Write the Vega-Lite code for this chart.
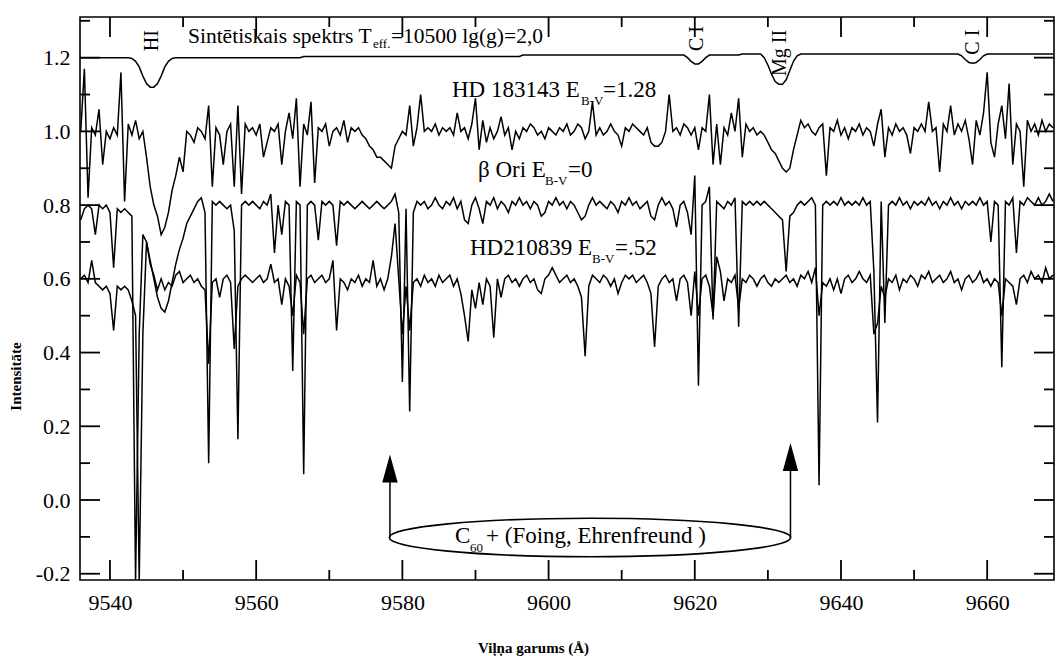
{
"$schema":"https://vega.github.io/schema/vega-lite/v6.json",
"width":974,"height":563,
"autosize":{"type":"none"},
"padding":{"left":80,"top":17,"right":4,"bottom":76},
"background":"white",
"config":{"view":{"stroke":"black","strokeWidth":1.6}},
"resolve":{"axis":{"x":"independent","y":"independent"}},
"datasets":{
"spec":[
{"w":9536.0,"a":1.00,"b":0.76,"c":0.60,"s":1.2},
{"w":9536.5,"a":1.17,"b":0.79,"c":0.61,"s":1.2},
{"w":9537.0,"a":0.82,"b":0.80,"c":0.59,"s":1.2},
{"w":9537.5,"a":1.01,"b":0.79,"c":0.65,"s":1.2},
{"w":9538.0,"a":0.99,"b":0.72,"c":0.59,"s":1.2},
{"w":9538.5,"a":1.06,"b":0.80,"c":0.58,"s":1.2},
{"w":9539.0,"a":0.91,"b":0.79,"c":0.57,"s":1.2},
{"w":9539.5,"a":1.00,"b":0.80,"c":0.58,"s":1.2},
{"w":9540.0,"a":0.98,"b":0.78,"c":0.56,"s":1.2},
{"w":9540.5,"a":1.01,"b":0.63,"c":0.46,"s":1.2},
{"w":9541.0,"a":0.99,"b":0.79,"c":0.58,"s":1.2},
{"w":9541.5,"a":1.16,"b":0.78,"c":0.57,"s":1.2},
{"w":9542.0,"a":0.81,"b":0.79,"c":0.58,"s":1.2},
{"w":9542.5,"a":1.02,"b":0.78,"c":0.57,"s":1.2},
{"w":9543.0,"a":0.99,"b":0.77,"c":0.54,"s":1.198},
{"w":9543.5,"a":1.03,"b":-0.22,"c":0.50,"s":1.19},
{"w":9544.0,"a":0.98,"b":0.45,"c":-0.22,"s":1.175},
{"w":9544.5,"a":1.00,"b":0.72,"c":0.45,"s":1.15},
{"w":9545.0,"a":0.93,"b":0.70,"c":0.70,"s":1.13},
{"w":9545.5,"a":0.85,"b":0.65,"c":0.64,"s":1.12},
{"w":9546.0,"a":0.80,"b":0.60,"c":0.61,"s":1.12},
{"w":9546.5,"a":0.77,"b":0.55,"c":0.57,"s":1.13},
{"w":9547.0,"a":0.72,"b":0.52,"c":0.60,"s":1.15},
{"w":9547.5,"a":0.74,"b":0.51,"c":0.57,"s":1.175},
{"w":9548.0,"a":0.78,"b":0.54,"c":0.59,"s":1.19},
{"w":9548.5,"a":0.84,"b":0.59,"c":0.58,"s":1.198},
{"w":9549.0,"a":0.88,"b":0.64,"c":0.61,"s":1.2},
{"w":9549.5,"a":0.93,"b":0.68,"c":0.62,"s":1.2},
{"w":9550.0,"a":0.89,"b":0.71,"c":0.59,"s":1.2},
{"w":9550.5,"a":1.00,"b":0.75,"c":0.60,"s":1.2},
{"w":9551.0,"a":0.99,"b":0.77,"c":0.61,"s":1.2},
{"w":9551.5,"a":0.97,"b":0.79,"c":0.59,"s":1.2},
{"w":9552.0,"a":1.01,"b":0.81,"c":0.60,"s":1.2},
{"w":9552.5,"a":1.00,"b":0.82,"c":0.58,"s":1.2},
{"w":9553.0,"a":0.98,"b":0.78,"c":0.57,"s":1.2},
{"w":9553.5,"a":1.07,"b":0.10,"c":0.37,"s":1.2},
{"w":9554.0,"a":0.85,"b":0.81,"c":0.59,"s":1.2},
{"w":9554.5,"a":1.01,"b":0.80,"c":0.60,"s":1.2},
{"w":9555.0,"a":0.99,"b":0.81,"c":0.55,"s":1.2},
{"w":9555.5,"a":0.91,"b":0.80,"c":0.60,"s":1.2},
{"w":9556.0,"a":1.00,"b":0.79,"c":0.61,"s":1.2},
{"w":9556.5,"a":1.02,"b":0.80,"c":0.59,"s":1.2},
{"w":9557.0,"a":0.85,"b":0.73,"c":0.41,"s":1.2},
{"w":9557.5,"a":1.07,"b":0.165,"c":0.58,"s":1.2},
{"w":9558.0,"a":0.83,"b":0.80,"c":0.60,"s":1.2},
{"w":9558.5,"a":1.02,"b":0.81,"c":0.61,"s":1.2},
{"w":9559.0,"a":1.00,"b":0.80,"c":0.60,"s":1.2},
{"w":9559.5,"a":1.01,"b":0.81,"c":0.59,"s":1.2},
{"w":9560.0,"a":0.99,"b":0.80,"c":0.60,"s":1.2},
{"w":9560.5,"a":1.02,"b":0.79,"c":0.61,"s":1.2},
{"w":9561.0,"a":0.93,"b":0.81,"c":0.59,"s":1.2},
{"w":9561.5,"a":0.97,"b":0.80,"c":0.60,"s":1.2},
{"w":9562.0,"a":1.01,"b":0.83,"c":0.64,"s":1.2},
{"w":9562.5,"a":1.00,"b":0.67,"c":0.59,"s":1.2},
{"w":9563.0,"a":1.02,"b":0.80,"c":0.60,"s":1.2},
{"w":9563.5,"a":0.91,"b":0.72,"c":0.53,"s":1.2},
{"w":9564.0,"a":1.00,"b":0.81,"c":0.60,"s":1.2},
{"w":9564.5,"a":1.05,"b":0.80,"c":0.58,"s":1.2},
{"w":9565.0,"a":0.98,"b":0.35,"c":0.50,"s":1.2},
{"w":9565.5,"a":1.09,"b":0.81,"c":0.61,"s":1.2},
{"w":9566.0,"a":0.85,"b":0.80,"c":0.59,"s":1.2},
{"w":9566.5,"a":1.02,"b":0.07,"c":0.45,"s":1.203},
{"w":9567.0,"a":0.99,"b":0.80,"c":0.60,"s":1.203},
{"w":9567.5,"a":1.08,"b":0.81,"c":0.61,"s":1.203},
{"w":9568.0,"a":0.86,"b":0.80,"c":0.59,"s":1.203},
{"w":9568.5,"a":1.01,"b":0.705,"c":0.60,"s":1.203},
{"w":9569.0,"a":1.00,"b":0.81,"c":0.61,"s":1.203},
{"w":9569.5,"a":1.02,"b":0.80,"c":0.59,"s":1.203},
{"w":9570.0,"a":0.96,"b":0.81,"c":0.60,"s":1.203},
{"w":9570.5,"a":1.00,"b":0.80,"c":0.65,"s":1.203},
{"w":9571.0,"a":1.01,"b":0.69,"c":0.46,"s":1.203},
{"w":9571.5,"a":0.99,"b":0.81,"c":0.60,"s":1.203},
{"w":9572.0,"a":1.03,"b":0.80,"c":0.59,"s":1.203},
{"w":9572.5,"a":0.97,"b":0.81,"c":0.57,"s":1.203},
{"w":9573.0,"a":1.01,"b":0.80,"c":0.60,"s":1.203},
{"w":9573.5,"a":1.00,"b":0.79,"c":0.59,"s":1.203},
{"w":9574.0,"a":1.01,"b":0.80,"c":0.61,"s":1.203},
{"w":9574.5,"a":0.99,"b":0.81,"c":0.58,"s":1.203},
{"w":9575.0,"a":0.98,"b":0.80,"c":0.60,"s":1.203},
{"w":9575.5,"a":0.96,"b":0.79,"c":0.59,"s":1.203},
{"w":9576.0,"a":0.95,"b":0.80,"c":0.65,"s":1.203},
{"w":9576.5,"a":0.93,"b":0.81,"c":0.58,"s":1.203},
{"w":9577.0,"a":0.93,"b":0.80,"c":0.60,"s":1.203},
{"w":9577.5,"a":0.92,"b":0.79,"c":0.57,"s":1.203},
{"w":9578.0,"a":0.91,"b":0.80,"c":0.60,"s":1.203},
{"w":9578.5,"a":0.90,"b":0.81,"c":0.66,"s":1.203},
{"w":9579.0,"a":0.96,"b":0.83,"c":0.75,"s":1.203},
{"w":9579.5,"a":0.98,"b":0.78,"c":0.60,"s":1.203},
{"w":9580.0,"a":1.00,"b":0.32,"c":0.45,"s":1.203},
{"w":9580.5,"a":0.99,"b":0.79,"c":0.58,"s":1.203},
{"w":9581.0,"a":1.07,"b":0.24,"c":0.46,"s":1.203},
{"w":9581.5,"a":0.96,"b":0.78,"c":0.59,"s":1.203},
{"w":9582.0,"a":1.01,"b":0.81,"c":0.60,"s":1.203},
{"w":9582.5,"a":1.10,"b":0.80,"c":0.58,"s":1.203},
{"w":9583.0,"a":1.00,"b":0.81,"c":0.61,"s":1.203},
{"w":9583.5,"a":1.01,"b":0.79,"c":0.59,"s":1.203},
{"w":9584.0,"a":1.00,"b":0.80,"c":0.60,"s":1.203},
{"w":9584.5,"a":1.02,"b":0.82,"c":0.58,"s":1.203},
{"w":9585.0,"a":0.99,"b":0.80,"c":0.61,"s":1.203},
{"w":9585.5,"a":1.01,"b":0.79,"c":0.59,"s":1.203},
{"w":9586.0,"a":1.00,"b":0.81,"c":0.60,"s":1.203},
{"w":9586.5,"a":1.01,"b":0.80,"c":0.61,"s":1.203},
{"w":9587.0,"a":0.99,"b":0.82,"c":0.58,"s":1.203},
{"w":9587.5,"a":1.05,"b":0.79,"c":0.60,"s":1.203},
{"w":9588.0,"a":1.00,"b":0.81,"c":0.56,"s":1.203},
{"w":9588.5,"a":1.01,"b":0.76,"c":0.50,"s":1.203},
{"w":9589.0,"a":0.98,"b":0.75,"c":0.43,"s":1.203},
{"w":9589.5,"a":1.02,"b":0.80,"c":0.57,"s":1.203},
{"w":9590.0,"a":1.09,"b":0.82,"c":0.52,"s":1.203},
{"w":9590.5,"a":0.95,"b":0.79,"c":0.59,"s":1.203},
{"w":9591.0,"a":1.03,"b":0.75,"c":0.53,"s":1.203},
{"w":9591.5,"a":0.97,"b":0.81,"c":0.60,"s":1.203},
{"w":9592.0,"a":1.01,"b":0.80,"c":0.58,"s":1.203},
{"w":9592.5,"a":0.98,"b":0.82,"c":0.44,"s":1.203},
{"w":9593.0,"a":1.00,"b":0.79,"c":0.60,"s":1.203},
{"w":9593.5,"a":1.04,"b":0.81,"c":0.55,"s":1.203},
{"w":9594.0,"a":0.99,"b":0.80,"c":0.60,"s":1.203},
{"w":9594.5,"a":1.01,"b":0.78,"c":0.61,"s":1.203},
{"w":9595.0,"a":0.95,"b":0.81,"c":0.59,"s":1.203},
{"w":9595.5,"a":1.00,"b":0.80,"c":0.60,"s":1.203},
{"w":9596.0,"a":0.98,"b":0.82,"c":0.58,"s":1.203},
{"w":9596.5,"a":1.01,"b":0.80,"c":0.60,"s":1.207},
{"w":9597.0,"a":1.00,"b":0.81,"c":0.61,"s":1.207},
{"w":9597.5,"a":1.02,"b":0.79,"c":0.59,"s":1.207},
{"w":9598.0,"a":1.01,"b":0.81,"c":0.60,"s":1.207},
{"w":9598.5,"a":0.99,"b":0.80,"c":0.57,"s":1.207},
{"w":9599.0,"a":1.00,"b":0.77,"c":0.56,"s":1.207},
{"w":9599.5,"a":0.98,"b":0.78,"c":0.60,"s":1.207},
{"w":9600.0,"a":1.01,"b":0.81,"c":0.61,"s":1.207},
{"w":9600.5,"a":1.00,"b":0.80,"c":0.63,"s":1.207},
{"w":9601.0,"a":0.99,"b":0.82,"c":0.61,"s":1.207},
{"w":9601.5,"a":1.01,"b":0.80,"c":0.59,"s":1.207},
{"w":9602.0,"a":1.00,"b":0.81,"c":0.60,"s":1.207},
{"w":9602.5,"a":1.02,"b":0.79,"c":0.61,"s":1.207},
{"w":9603.0,"a":0.99,"b":0.81,"c":0.59,"s":1.207},
{"w":9603.5,"a":1.00,"b":0.80,"c":0.60,"s":1.207},
{"w":9604.0,"a":1.02,"b":0.78,"c":0.58,"s":1.207},
{"w":9604.5,"a":1.01,"b":0.76,"c":0.55,"s":1.207},
{"w":9605.0,"a":0.98,"b":0.77,"c":0.39,"s":1.207},
{"w":9605.5,"a":1.00,"b":0.80,"c":0.58,"s":1.207},
{"w":9606.0,"a":1.08,"b":0.82,"c":0.61,"s":1.207},
{"w":9606.5,"a":0.99,"b":0.80,"c":0.60,"s":1.207},
{"w":9607.0,"a":1.01,"b":0.81,"c":0.59,"s":1.207},
{"w":9607.5,"a":0.99,"b":0.80,"c":0.61,"s":1.207},
{"w":9608.0,"a":1.00,"b":0.79,"c":0.60,"s":1.207},
{"w":9608.5,"a":1.02,"b":0.81,"c":0.58,"s":1.207},
{"w":9609.0,"a":1.00,"b":0.80,"c":0.60,"s":1.207},
{"w":9609.5,"a":0.99,"b":0.78,"c":0.56,"s":1.207},
{"w":9610.0,"a":0.96,"b":0.81,"c":0.59,"s":1.207},
{"w":9610.5,"a":1.01,"b":0.80,"c":0.61,"s":1.207},
{"w":9611.0,"a":1.00,"b":0.82,"c":0.60,"s":1.207},
{"w":9611.5,"a":1.02,"b":0.80,"c":0.61,"s":1.207},
{"w":9612.0,"a":1.01,"b":0.81,"c":0.59,"s":1.207},
{"w":9612.5,"a":1.00,"b":0.79,"c":0.60,"s":1.207},
{"w":9613.0,"a":0.99,"b":0.80,"c":0.61,"s":1.207},
{"w":9613.5,"a":1.01,"b":0.81,"c":0.59,"s":1.207},
{"w":9614.0,"a":0.97,"b":0.77,"c":0.56,"s":1.207},
{"w":9614.5,"a":0.96,"b":0.76,"c":0.415,"s":1.207},
{"w":9615.0,"a":0.96,"b":0.80,"c":0.58,"s":1.207},
{"w":9615.5,"a":0.97,"b":0.82,"c":0.60,"s":1.207},
{"w":9616.0,"a":1.00,"b":0.80,"c":0.61,"s":1.207},
{"w":9616.5,"a":1.10,"b":0.81,"c":0.59,"s":1.207},
{"w":9617.0,"a":1.00,"b":0.79,"c":0.60,"s":1.207},
{"w":9617.5,"a":1.01,"b":0.74,"c":0.54,"s":1.207},
{"w":9618.0,"a":0.99,"b":0.80,"c":0.60,"s":1.207},
{"w":9618.5,"a":1.02,"b":0.81,"c":0.61,"s":1.207},
{"w":9619.0,"a":1.01,"b":0.78,"c":0.59,"s":1.2},
{"w":9619.5,"a":0.99,"b":0.72,"c":0.50,"s":1.19},
{"w":9620.0,"a":1.01,"b":0.88,"c":0.62,"s":1.183},
{"w":9620.5,"a":0.95,"b":0.31,"c":0.50,"s":1.183},
{"w":9621.0,"a":1.01,"b":0.80,"c":0.60,"s":1.19},
{"w":9621.5,"a":1.00,"b":0.81,"c":0.61,"s":1.2},
{"w":9622.0,"a":1.10,"b":0.85,"c":0.58,"s":1.207},
{"w":9622.5,"a":0.91,"b":0.49,"c":0.50,"s":1.207},
{"w":9623.0,"a":1.02,"b":0.81,"c":0.66,"s":1.207},
{"w":9623.5,"a":0.91,"b":0.80,"c":0.62,"s":1.207},
{"w":9624.0,"a":1.01,"b":0.79,"c":0.54,"s":1.207},
{"w":9624.5,"a":0.99,"b":0.81,"c":0.60,"s":1.207},
{"w":9625.0,"a":1.05,"b":0.80,"c":0.59,"s":1.207},
{"w":9625.5,"a":1.00,"b":0.82,"c":0.61,"s":1.207},
{"w":9626.0,"a":1.09,"b":0.47,"c":0.52,"s":1.207},
{"w":9626.5,"a":0.93,"b":0.81,"c":0.60,"s":1.21},
{"w":9627.0,"a":1.02,"b":0.80,"c":0.59,"s":1.21},
{"w":9627.5,"a":1.00,"b":0.81,"c":0.61,"s":1.21},
{"w":9628.0,"a":1.01,"b":0.80,"c":0.60,"s":1.21},
{"w":9628.5,"a":0.99,"b":0.81,"c":0.58,"s":1.21},
{"w":9629.0,"a":1.00,"b":0.80,"c":0.60,"s":1.21},
{"w":9629.5,"a":0.99,"b":0.81,"c":0.61,"s":1.2},
{"w":9630.0,"a":0.97,"b":0.80,"c":0.59,"s":1.18},
{"w":9630.5,"a":0.95,"b":0.79,"c":0.58,"s":1.155},
{"w":9631.0,"a":0.94,"b":0.78,"c":0.60,"s":1.135},
{"w":9631.5,"a":0.92,"b":0.77,"c":0.59,"s":1.128},
{"w":9632.0,"a":0.90,"b":0.76,"c":0.60,"s":1.128},
{"w":9632.5,"a":0.89,"b":0.62,"c":0.61,"s":1.14},
{"w":9633.0,"a":0.90,"b":0.77,"c":0.59,"s":1.165},
{"w":9633.5,"a":0.95,"b":0.78,"c":0.60,"s":1.19},
{"w":9634.0,"a":0.99,"b":0.80,"c":0.58,"s":1.205},
{"w":9634.5,"a":1.03,"b":0.81,"c":0.61,"s":1.21},
{"w":9635.0,"a":1.01,"b":0.80,"c":0.60,"s":1.21},
{"w":9635.5,"a":1.02,"b":0.81,"c":0.62,"s":1.21},
{"w":9636.0,"a":1.00,"b":0.82,"c":0.59,"s":1.21},
{"w":9636.5,"a":0.99,"b":0.80,"c":0.63,"s":1.21},
{"w":9637.0,"a":1.01,"b":0.04,"c":0.50,"s":1.21},
{"w":9637.5,"a":1.02,"b":0.80,"c":0.59,"s":1.21},
{"w":9638.0,"a":0.88,"b":0.81,"c":0.58,"s":1.21},
{"w":9638.5,"a":1.01,"b":0.80,"c":0.60,"s":1.21},
{"w":9639.0,"a":1.00,"b":0.81,"c":0.57,"s":1.21},
{"w":9639.5,"a":1.03,"b":0.80,"c":0.60,"s":1.21},
{"w":9640.0,"a":0.99,"b":0.82,"c":0.56,"s":1.21},
{"w":9640.5,"a":1.01,"b":0.80,"c":0.60,"s":1.21},
{"w":9641.0,"a":0.98,"b":0.81,"c":0.61,"s":1.21},
{"w":9641.5,"a":1.01,"b":0.80,"c":0.59,"s":1.21},
{"w":9642.0,"a":1.00,"b":0.81,"c":0.60,"s":1.21},
{"w":9642.5,"a":1.02,"b":0.80,"c":0.62,"s":1.21},
{"w":9643.0,"a":0.99,"b":0.82,"c":0.60,"s":1.21},
{"w":9643.5,"a":1.01,"b":0.80,"c":0.59,"s":1.21},
{"w":9644.0,"a":1.00,"b":0.81,"c":0.61,"s":1.21},
{"w":9644.5,"a":0.96,"b":0.62,"c":0.45,"s":1.21},
{"w":9645.0,"a":1.02,"b":0.21,"c":0.48,"s":1.21},
{"w":9645.5,"a":1.06,"b":0.81,"c":0.58,"s":1.21},
{"w":9646.0,"a":0.93,"b":0.48,"c":0.55,"s":1.21},
{"w":9646.5,"a":1.01,"b":0.80,"c":0.60,"s":1.21},
{"w":9647.0,"a":0.99,"b":0.81,"c":0.59,"s":1.21},
{"w":9647.5,"a":1.02,"b":0.80,"c":0.61,"s":1.21},
{"w":9648.0,"a":1.00,"b":0.82,"c":0.57,"s":1.21},
{"w":9648.5,"a":1.01,"b":0.80,"c":0.60,"s":1.21},
{"w":9649.0,"a":0.99,"b":0.81,"c":0.59,"s":1.21},
{"w":9649.5,"a":0.94,"b":0.79,"c":0.61,"s":1.21},
{"w":9650.0,"a":1.01,"b":0.81,"c":0.60,"s":1.21},
{"w":9650.5,"a":1.00,"b":0.80,"c":0.58,"s":1.21},
{"w":9651.0,"a":1.02,"b":0.81,"c":0.61,"s":1.21},
{"w":9651.5,"a":1.00,"b":0.80,"c":0.60,"s":1.21},
{"w":9652.0,"a":1.08,"b":0.82,"c":0.62,"s":1.21},
{"w":9652.5,"a":1.00,"b":0.80,"c":0.59,"s":1.21},
{"w":9653.0,"a":1.01,"b":0.81,"c":0.60,"s":1.21},
{"w":9653.5,"a":0.89,"b":0.79,"c":0.61,"s":1.21},
{"w":9654.0,"a":1.02,"b":0.81,"c":0.59,"s":1.21},
{"w":9654.5,"a":1.00,"b":0.80,"c":0.60,"s":1.21},
{"w":9655.0,"a":1.07,"b":0.82,"c":0.62,"s":1.21},
{"w":9655.5,"a":0.99,"b":0.80,"c":0.59,"s":1.21},
{"w":9656.0,"a":1.02,"b":0.81,"c":0.60,"s":1.21},
{"w":9656.5,"a":1.00,"b":0.79,"c":0.57,"s":1.205},
{"w":9657.0,"a":1.03,"b":0.81,"c":0.60,"s":1.195},
{"w":9657.5,"a":0.98,"b":0.80,"c":0.61,"s":1.187},
{"w":9658.0,"a":0.91,"b":0.81,"c":0.59,"s":1.185},
{"w":9658.5,"a":1.03,"b":0.80,"c":0.60,"s":1.187},
{"w":9659.0,"a":0.99,"b":0.82,"c":0.62,"s":1.195},
{"w":9659.5,"a":1.05,"b":0.80,"c":0.59,"s":1.205},
{"w":9660.0,"a":1.16,"b":0.81,"c":0.60,"s":1.21},
{"w":9660.5,"a":0.97,"b":0.70,"c":0.58,"s":1.21},
{"w":9661.0,"a":0.93,"b":0.81,"c":0.60,"s":1.21},
{"w":9661.5,"a":1.02,"b":0.80,"c":0.59,"s":1.21},
{"w":9662.0,"a":1.07,"b":0.36,"c":0.50,"s":1.21},
{"w":9662.5,"a":0.98,"b":0.81,"c":0.60,"s":1.21},
{"w":9663.0,"a":1.13,"b":0.80,"c":0.59,"s":1.21},
{"w":9663.5,"a":0.91,"b":0.82,"c":0.58,"s":1.21},
{"w":9664.0,"a":1.02,"b":0.67,"c":0.53,"s":1.21},
{"w":9664.5,"a":1.00,"b":0.81,"c":0.60,"s":1.21},
{"w":9665.0,"a":0.85,"b":0.80,"c":0.61,"s":1.21},
{"w":9665.5,"a":1.03,"b":0.82,"c":0.59,"s":1.21},
{"w":9666.0,"a":1.00,"b":0.81,"c":0.62,"s":1.21},
{"w":9666.5,"a":1.02,"b":0.80,"c":0.60,"s":1.21},
{"w":9667.0,"a":0.99,"b":0.82,"c":0.61,"s":1.21},
{"w":9667.5,"a":1.03,"b":0.80,"c":0.59,"s":1.21},
{"w":9668.0,"a":1.00,"b":0.81,"c":0.63,"s":1.21},
{"w":9668.5,"a":1.02,"b":0.83,"c":0.60,"s":1.21},
{"w":9669.0,"a":1.01,"b":0.81,"c":0.61,"s":1.21}
],
"lab":[
{"t":"HD 183143 E","w":9586.79,"v":1.0933},
{"t":"=1.28","w":9607.44,"v":1.0933},
{"t":"β Ori  E","w":9590.34,"v":0.877},
{"t":"=0","w":9602.66,"v":0.877},
{"t":"HD210839 E","w":9589.25,"v":0.6647},
{"t":"=.52","w":9609.08,"v":0.6647},
{"t":"C","w":9587.20,"v":-0.1175},
{"t":"+ (Foing, Ehrenfreund )","w":9591.44,"v":-0.1175}
],
"sub":[
{"t":"B-V","w":9604.43,"v":1.0716},
{"t":"B-V","w":9599.51,"v":0.8546},
{"t":"B-V","w":9605.94,"v":0.643},
{"t":"60","w":9589.25,"v":-0.140},
{"t":"eff.","w":9575.98,"v":1.2273}
],
"syn":[
{"t":"Sintētiskais spektrs T","w":9550.67,"v":1.239},
{"t":"=10500 lg(g)=2,0","w":9578.44,"v":1.239}
],
"rot":[
{"t":"HI","w":9545.75,"v":1.246},
{"t":"C I","w":9620.25,"v":1.252},
{"t":"Mg II","w":9631.66,"v":1.213},
{"t":"C I","w":9658.1,"v":1.242}
],
"ell":[{"w":9605.66,"v":-0.1017}],
"arr":[{"w":9578.3,"v":-0.1017,"v2":0.0488},{"w":9633.09,"v":-0.1017,"v2":0.081}],
"tri":[{"w":9578.3,"v":0.0855},{"w":9633.09,"v":0.1167}],
"xmaj":[{"t":9540},{"t":9560},{"t":9580},{"t":9600},{"t":9620},{"t":9640},{"t":9660}],
"xmin":[{"t":9550},{"t":9570},{"t":9590},{"t":9610},{"t":9630},{"t":9650}],
"ymaj":[{"t":-0.2},{"t":0},{"t":0.2},{"t":0.4},{"t":0.6},{"t":0.8},{"t":1.0},{"t":1.2}],
"ymin":[{"t":-0.1},{"t":0.1},{"t":0.3},{"t":0.5},{"t":0.7},{"t":0.9},{"t":1.1},{"t":1.3}]
},
"layer":[
{
"data":{"name":"spec"},
"transform":[{"fold":["a","b","c","s"],"as":["k","val"]}],
"mark":{"type":"line","color":"black","strokeWidth":1.5,"clip":true},
"encoding":{
"x":{"field":"w","type":"quantitative","scale":{"domain":[9535.9,9669.14],"nice":false,"zero":false},
"axis":{"orient":"bottom","values":[9540,9560,9580,9600,9620,9640,9660],"format":"d","ticks":false,"labelPadding":12,"labelFont":"Liberation Serif","labelFontSize":22,"labelColor":"black","domain":false,"grid":false,
"title":"Viļņa garums (Å)","titleFont":"Liberation Serif","titleFontSize":15,"titleFontWeight":"bold","titleColor":"black","titleX":453,"titleY":67,"titleAlign":"center","titleBaseline":"middle","titleAngle":0}},
"y":{"field":"val","type":"quantitative","scale":{"domain":[-0.217,1.3103],"nice":false,"zero":false},
"axis":{"orient":"left","values":[-0.2,0,0.2,0.4,0.6,0.8,1,1.2],"labelExpr":"datum.value < 0 ? '-' + format(-datum.value, '.1f') : format(datum.value, '.1f')","ticks":false,"labelPadding":10,"labelFont":"Liberation Serif","labelFontSize":22,"labelColor":"black","domain":false,"grid":false,
"title":"Intensitāte","titleFont":"Liberation Serif","titleFontSize":15,"titleFontWeight":"bold","titleColor":"black","titleX":-65,"titleY":359,"titleAlign":"center","titleBaseline":"middle","titleAngle":270}},
"detail":{"field":"k"}
}
},
{
"data":{"name":"xmaj"},
"mark":{"type":"point","shape":"M0,0V-1","size":1600,"filled":false,"color":"black","strokeWidth":1.8,"opacity":1},
"encoding":{"x":{"field":"t","type":"quantitative","scale":{"domain":[9535.9,9669.14],"nice":false,"zero":false},"axis":null},
"y":{"datum":-0.217,"type":"quantitative","scale":{"domain":[-0.217,1.3103],"nice":false,"zero":false},"axis":null}}
},
{
"data":{"name":"xmaj"},
"mark":{"type":"point","shape":"M0,0V1","size":1600,"filled":false,"color":"black","strokeWidth":1.8,"opacity":1},
"encoding":{"x":{"field":"t","type":"quantitative","scale":{"domain":[9535.9,9669.14],"nice":false,"zero":false},"axis":null},
"y":{"datum":1.3103,"type":"quantitative","scale":{"domain":[-0.217,1.3103],"nice":false,"zero":false},"axis":null}}
},
{
"data":{"name":"xmin"},
"mark":{"type":"point","shape":"M0,0V-1","size":400,"filled":false,"color":"black","strokeWidth":1.8,"opacity":1},
"encoding":{"x":{"field":"t","type":"quantitative","scale":{"domain":[9535.9,9669.14],"nice":false,"zero":false},"axis":null},
"y":{"datum":-0.217,"type":"quantitative","scale":{"domain":[-0.217,1.3103],"nice":false,"zero":false},"axis":null}}
},
{
"data":{"name":"xmin"},
"mark":{"type":"point","shape":"M0,0V1","size":400,"filled":false,"color":"black","strokeWidth":1.8,"opacity":1},
"encoding":{"x":{"field":"t","type":"quantitative","scale":{"domain":[9535.9,9669.14],"nice":false,"zero":false},"axis":null},
"y":{"datum":1.3103,"type":"quantitative","scale":{"domain":[-0.217,1.3103],"nice":false,"zero":false},"axis":null}}
},
{
"data":{"name":"ymaj"},
"mark":{"type":"point","shape":"M0,0H1","size":1600,"filled":false,"color":"black","strokeWidth":1.8,"opacity":1},
"encoding":{"y":{"field":"t","type":"quantitative","scale":{"domain":[-0.217,1.3103],"nice":false,"zero":false},"axis":null},
"x":{"datum":9535.9,"type":"quantitative","scale":{"domain":[9535.9,9669.14],"nice":false,"zero":false},"axis":null}}
},
{
"data":{"name":"ymaj"},
"mark":{"type":"point","shape":"M0,0H-1","size":1600,"filled":false,"color":"black","strokeWidth":1.8,"opacity":1},
"encoding":{"y":{"field":"t","type":"quantitative","scale":{"domain":[-0.217,1.3103],"nice":false,"zero":false},"axis":null},
"x":{"datum":9669.14,"type":"quantitative","scale":{"domain":[9535.9,9669.14],"nice":false,"zero":false},"axis":null}}
},
{
"data":{"name":"ymin"},
"mark":{"type":"point","shape":"M0,0H1","size":400,"filled":false,"color":"black","strokeWidth":1.8,"opacity":1},
"encoding":{"y":{"field":"t","type":"quantitative","scale":{"domain":[-0.217,1.3103],"nice":false,"zero":false},"axis":null},
"x":{"datum":9535.9,"type":"quantitative","scale":{"domain":[9535.9,9669.14],"nice":false,"zero":false},"axis":null}}
},
{
"data":{"name":"ymin"},
"mark":{"type":"point","shape":"M0,0H-1","size":400,"filled":false,"color":"black","strokeWidth":1.8,"opacity":1},
"encoding":{"y":{"field":"t","type":"quantitative","scale":{"domain":[-0.217,1.3103],"nice":false,"zero":false},"axis":null},
"x":{"datum":9669.14,"type":"quantitative","scale":{"domain":[9535.9,9669.14],"nice":false,"zero":false},"axis":null}}
},
{
"data":{"name":"lab"},
"mark":{"type":"text","font":"Liberation Serif","fontSize":23,"align":"left","baseline":"alphabetic","color":"black"},
"encoding":{
"x":{"field":"w","type":"quantitative","scale":{"domain":[9535.9,9669.14],"nice":false,"zero":false},"axis":null},
"y":{"field":"v","type":"quantitative","scale":{"domain":[-0.217,1.3103],"nice":false,"zero":false},"axis":null},
"text":{"field":"t"}
}
},
{
"data":{"name":"sub"},
"mark":{"type":"text","font":"Liberation Serif","fontSize":13,"align":"left","baseline":"alphabetic","color":"black"},
"encoding":{
"x":{"field":"w","type":"quantitative","scale":{"domain":[9535.9,9669.14],"nice":false,"zero":false},"axis":null},
"y":{"field":"v","type":"quantitative","scale":{"domain":[-0.217,1.3103],"nice":false,"zero":false},"axis":null},
"text":{"field":"t"}
}
},
{
"data":{"name":"syn"},
"mark":{"type":"text","font":"Liberation Serif","fontSize":21.5,"align":"left","baseline":"alphabetic","color":"black"},
"encoding":{
"x":{"field":"w","type":"quantitative","scale":{"domain":[9535.9,9669.14],"nice":false,"zero":false},"axis":null},
"y":{"field":"v","type":"quantitative","scale":{"domain":[-0.217,1.3103],"nice":false,"zero":false},"axis":null},
"text":{"field":"t"}
}
},
{
"data":{"name":"rot"},
"mark":{"type":"text","font":"Liberation Serif","fontSize":20,"align":"center","baseline":"middle","angle":270,"color":"black"},
"encoding":{
"x":{"field":"w","type":"quantitative","scale":{"domain":[9535.9,9669.14],"nice":false,"zero":false},"axis":null},
"y":{"field":"v","type":"quantitative","scale":{"domain":[-0.217,1.3103],"nice":false,"zero":false},"axis":null},
"text":{"field":"t"}
}
},
{
"data":{"name":"ell"},
"mark":{"type":"point","shape":"M-1,0C-1,-0.0529,-0.5523,-0.0957,0,-0.0957C0.5523,-0.0957,1,-0.0529,1,0C1,0.0529,0.5523,0.0957,0,0.0957C-0.5523,0.0957,-1,0.0529,-1,0Z","size":161122,"filled":false,"color":"black","strokeWidth":1.6,"opacity":1},
"encoding":{
"x":{"field":"w","type":"quantitative","scale":{"domain":[9535.9,9669.14],"nice":false,"zero":false},"axis":null},
"y":{"field":"v","type":"quantitative","scale":{"domain":[-0.217,1.3103],"nice":false,"zero":false},"axis":null}
}
},
{
"data":{"name":"arr"},
"mark":{"type":"rule","color":"black","strokeWidth":1.5},
"encoding":{
"x":{"field":"w","type":"quantitative","scale":{"domain":[9535.9,9669.14],"nice":false,"zero":false},"axis":null},
"y":{"field":"v","type":"quantitative","scale":{"domain":[-0.217,1.3103],"nice":false,"zero":false},"axis":null},
"y2":{"field":"v2"}
}
},
{
"data":{"name":"tri"},
"mark":{"type":"point","shape":"M0,-1L0.55,1L-0.55,1Z","size":784,"filled":true,"color":"black","opacity":1},
"encoding":{
"x":{"field":"w","type":"quantitative","scale":{"domain":[9535.9,9669.14],"nice":false,"zero":false},"axis":null},
"y":{"field":"v","type":"quantitative","scale":{"domain":[-0.217,1.3103],"nice":false,"zero":false},"axis":null}
}
}
]
}
